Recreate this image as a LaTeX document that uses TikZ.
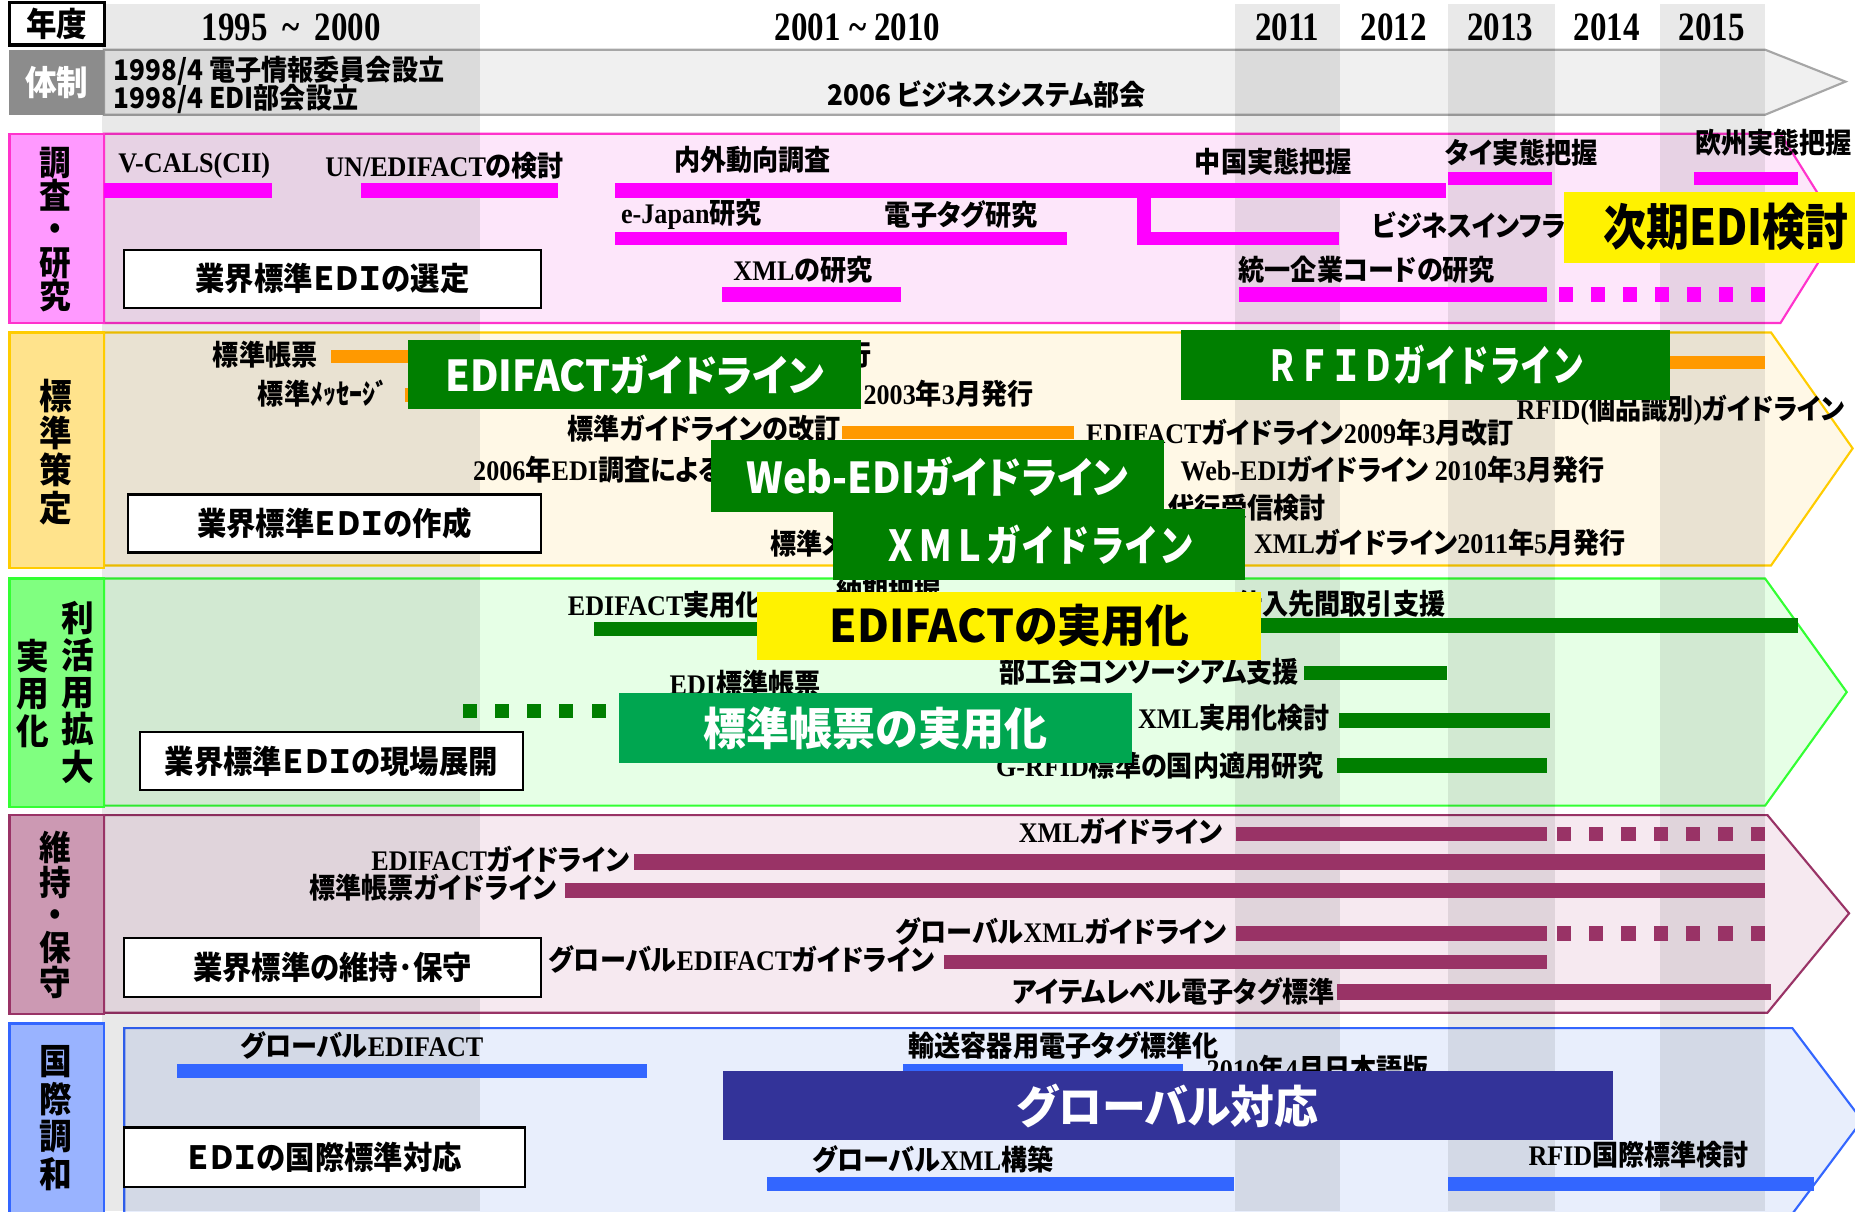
\documentclass[tikz,border=0pt]{standalone}
\usepackage{fontspec}
\setmainfont{Liberation Serif}
\newfontfamily\jp{Noto Sans CJK JP}[FakeStretch=0.92, RawFeature=+palt]
\newfontfamily\jpf{Noto Sans CJK JP}[FakeStretch=0.92]
\newfontfamily\tm{Liberation Serif}[FakeStretch=0.92]
\newfontfamily\tmy{Liberation Serif}[FakeStretch=0.82]
\newcommand\T[1]{{\tm\bfseries #1}}
\newcommand\tld{\char"007E\relax}
\definecolor{tgray}{HTML}{F0F0F0}
\definecolor{labgray}{HTML}{8C8C8C}
\definecolor{pinkbg}{HTML}{FDE6FA}
\definecolor{pinkln}{HTML}{FF33CC}
\definecolor{pinklab}{HTML}{FF99FF}
\definecolor{mag}{HTML}{FF00FF}
\definecolor{orbg}{HTML}{FFF8E6}
\definecolor{orln}{HTML}{FFCC00}
\definecolor{orlab}{HTML}{FFE38C}
\definecolor{orbar}{HTML}{FF9900}
\definecolor{grbg}{HTML}{E6FFE6}
\definecolor{grln}{HTML}{33FF33}
\definecolor{grlab}{HTML}{80FF80}
\definecolor{dgreen}{HTML}{007F00}
\definecolor{mgreen}{HTML}{00A650}
\definecolor{mvbg}{HTML}{F6E9F0}
\definecolor{mvln}{HTML}{993366}
\definecolor{mvlab}{HTML}{CC99B3}
\definecolor{blbg}{HTML}{E8EEFC}
\definecolor{blln}{HTML}{3366FF}
\definecolor{bllab}{HTML}{99B3FF}
\definecolor{navy}{HTML}{333399}
\newcommand\bx[7]{\node[#2, minimum width={(#5-#3)*0.5pt}, minimum height={(#6-#4)*0.5pt}] (#1) at ({(#3+#5)/2},{(#4+#6)/2}) {#7};}
\newcommand\br[5]{\fill[#1] (#2,#3) rectangle (#4,#5);}
\begin{document}
\begin{tikzpicture}[x=0.5pt,y=-0.5pt,
  every node/.style={inner sep=0pt, outer sep=0pt},
  lb/.style={font=\jp\bfseries\fontsize{12}{12}\selectfont, anchor=west},
  lbe/.style={lb, anchor=east},
  yr/.style={font=\tmy\bfseries\fontsize{17}{17}\selectfont},
  vlab/.style={font=\jpf\bfseries\fontsize{14.5}{14}\selectfont, align=center},
  wbox/.style={draw=black, line width=0.9pt, fill=white, font=\jp\bfseries\fontsize{13.5}{14}\selectfont},
  gbox/.style={fill=dgreen, text=white, font=\jp\bfseries\fontsize{18}{18}\selectfont},
  ybox/.style={fill=yellow, text=black, font=\jp\bfseries\fontsize{19}{19}\selectfont},
  shade/.style={black, opacity=0.085},
  band/.style={line width=0.9pt}]
\useasboundingbox (0,0) rectangle (1568,1024);
% ---------- bands ----------
\filldraw[band, fill=tgray, draw=gray!70] (88,42) -- (1492,42) -- (1560,69) -- (1492,97) -- (88,97) -- cycle;
\filldraw[band, fill=pinkbg, draw=pinkln] (88,113) -- (1505,113) -- (1555,193) -- (1505,273) -- (88,273) -- cycle;
\filldraw[band, fill=orbg, draw=orln] (88,281) -- (1497,281) -- (1566,379) -- (1497,478) -- (88,478) -- cycle;
\filldraw[band, fill=grbg, draw=grln] (88,489) -- (1492,489) -- (1561,585) -- (1492,681) -- (88,681) -- cycle;
\filldraw[band, fill=mvbg, draw=mvln] (88,689) -- (1494,689) -- (1563,772) -- (1494,856) -- (88,856) -- cycle;
\filldraw[band, fill=blbg, draw=blln] (105,869) -- (1515,869) -- (1574,947) -- (1515,1026) -- (105,1026) -- cycle;
% ---------- shaded year columns ----------
\fill[shade] (86,3) rectangle (406,1024);
\fill[shade] (1044,3) rectangle (1133,1024);
\fill[shade] (1224,3) rectangle (1314,1024);
\fill[shade] (1403,3) rectangle (1492,1024);
% ---------- header ----------
\bx{nendo}{draw=black, line width=1.3pt, fill=white, font=\jpf\bfseries\fontsize{14}{14}\selectfont}{8}{2}{88}{38}{年度}
\node[yr] (y1) at (246,23) {1995 \,\tld\, 2000};
\node[yr] (y2) at (725,23) {2001 \tld{} 2010};
\node[yr] (y3) at (1088,23) {2011};
\node[yr] (y4) at (1178,23) {2012};
\node[yr] (y5) at (1268,23) {2013};
\node[yr] (y6) at (1358,23) {2014};
\node[yr] (y7) at (1447,23) {2015};
% ---------- left label boxes ----------
\bx{L0}{fill=labgray, text=white, font=\jpf\bfseries\fontsize{14.5}{14}\selectfont}{8}{42}{88}{97}{体制}
\bx{L1}{fill=pinklab, draw=pinkln, line width=1pt}{8}{113}{88}{273}{}
\node[vlab] (v1) at (47,194) {調\\査\\・\\研\\究};
\bx{L2}{fill=orlab, draw=orln, line width=1pt}{8}{281}{88}{480}{}
\node[vlab, font=\jpf\bfseries\fontsize{15}{15.75}\selectfont] (v2) at (47,382) {標\\準\\策\\定};
\bx{L3}{fill=grlab, draw=grln, line width=1pt}{8}{489}{88}{682}{}
\node[vlab, font=\jpf\bfseries\fontsize{15}{15.75}\selectfont] (v3a) at (66,585) {利\\活\\用\\拡\\大};
\node[vlab, font=\jpf\bfseries\fontsize{15}{15.75}\selectfont] (v3b) at (28,586) {実\\用\\化};
\bx{L4}{fill=mvlab, draw=mvln, line width=1pt}{8}{689}{88}{857}{}
\node[vlab, font=\jpf\bfseries\fontsize{14.5}{13.75}\selectfont] (v4) at (47,773) {維\\持\\・\\保\\守};
\bx{L5}{fill=bllab, draw=blln, line width=1pt}{8}{865}{88}{1030}{}
\node[vlab, font=\jpf\bfseries\fontsize{15}{15.85}\selectfont] (v5) at (47,945) {国\\際\\調\\和};
% ---------- 体制 texts ----------
\node[lb, font=\jp\bfseries\fontsize{12}{12}\selectfont] (s1) at (96,60) {1998/4 電子情報委員会設立};
\node[lb, font=\jp\bfseries\fontsize{12}{12}\selectfont] (s2) at (96,84) {1998/4 EDI部会設立};
\node[font=\jp\bfseries\fontsize{12}{12}\selectfont] (s3) at (834,80) {2006 ビジネスシステム部会};
% ---------- band 1 bars ----------
\br{mag}{88}{155}{230}{167}
\br{mag}{305}{155}{472}{167}
\br{mag}{520}{155}{1222}{167}
\br{mag}{1224}{145}{1312}{156}
\br{mag}{1432}{145}{1520}{156}
\br{mag}{520}{196}{902}{207}
\br{mag}{961}{166}{973}{207}
\br{mag}{961}{196}{1132}{207}
\br{mag}{610}{243}{762}{255}
\br{mag}{1047}{243}{1308}{255}
\foreach \k in {0,...,6} {\fill[mag] ({1318+27*\k},243) rectangle ({1330+27*\k},255);}
% band 1 labels
\node[lb] (a1) at (100,140) {\T{V-CALS(CII)}};
\node[lb] (a2) at (275,140) {\T{UN/EDIFACT}の検討};
\node[lb] (a3) at (570,135) {内外動向調査};
\node[lb] (a4) at (1010,137) {中国実態把握};
\node[lb] (a5) at (1222,129) {タイ実態把握};
\node[lb] (a6) at (1433,121) {欧州実態把握};
\node[lb] (a7) at (525,181) {\T{e-Japan}研究};
\node[lb] (a8) at (748,181) {電子タグ研究};
\node[lb] (a9) at (1160,191) {ビジネスインフラ研究};
\node[lb] (a10) at (620,228) {\T{XML}の研究};
\node[lb] (a11) at (1047,228) {統一企業コードの研究};
% ---------- band 2 ----------
\br{orbar}{280}{296}{360}{307}
\br{orbar}{342}{328}{360}{340}
\br{orbar}{712}{360}{908}{371}
\br{orbar}{1000}{301}{1492}{312}
\node[lb] (b1) at (180,300) {標準帳票};
\node[lb] (b2) at (218,333) {標準ﾒｯｾｰｼﾞ};
\node[lbe] (b3) at (737,300) {\T{2001}年\T{3}月発行};
\node[lb] (b4) at (730,333) {\T{2003}年\T{3}月発行};
\node[lb] (b5) at (480,362) {標準ガイドラインの改訂};
\node[lb] (b6) at (918,366) {\T{EDIFACT}ガイドライン\T{2009}年\T{3}月改訂};
\node[lb] (b7) at (1282,347) {\T{RFID(}個品識別\T{)}ガイドライン};
\node[lb] (b8) at (400,397) {\T{2006}年\T{EDI}調査による};
\node[lb] (b9) at (998,397) {\T{Web-EDI}ガイドライン \T{2010}年\T{3}月発行};
\node[lb] (b10) at (988,429) {代行受信検討};
\node[lb] (b11) at (651,460) {標準メッセージ};
\node[lb] (b12) at (1060,459) {\T{XML}ガイドライン\T{2011}年\T{5}月発行};
% ---------- band 3 ----------
\br{dgreen}{502}{526}{760}{538}
\br{dgreen}{1050}{522}{1520}{535}
\br{dgreen}{1102}{563}{1223}{575}
\br{dgreen}{1132}{603}{1310}{615}
\br{dgreen}{1130}{641}{1308}{653}
\foreach \k in {0,...,4} {\fill[dgreen] ({391+27.25*\k},595) rectangle ({403+27.25*\k},607);}
\node[lb] (c1) at (480,511) {\T{EDIFACT}実用化};
\node[lb] (c2) at (707,500) {納期把握};
\node[lb] (c3) at (1045,510) {仕入先間取引支援};
\node[lb] (c4) at (845,568) {部工会コンソーシアム支援};
\node[lb] (c5) at (566,578) {\T{EDI}標準帳票};
\node[lb] (c6) at (962,607) {\T{XML}実用化検討};
\node[lb] (c7) at (842,647) {\T{G-RFID}標準の国内適用研究};
% ---------- band 4 ----------
\br{mvln}{1045}{699}{1308}{711}
\foreach \k in {0,...,6} {\fill[mvln] ({1316+27.3*\k},699) rectangle ({1328+27.3*\k},711);}
\br{mvln}{536}{722}{1492}{735}
\br{mvln}{478}{746}{1492}{759}
\br{mvln}{1045}{783}{1308}{795}
\foreach \k in {0,...,6} {\fill[mvln] ({1316+27.3*\k},783) rectangle ({1328+27.3*\k},795);}
\br{mvln}{798}{807}{1308}{819}
\br{mvln}{1130}{832}{1497}{845}
\node[lbe] (d1) at (1033,703) {\T{XML}ガイドライン};
\node[lbe] (d2) at (532,726) {\T{EDIFACT}ガイドライン};
\node[lbe] (d3) at (470,750) {標準帳票ガイドライン};
\node[lbe] (d4) at (1037,787) {グローバル\T{XML}ガイドライン};
\node[lbe] (d5) at (790,811) {グローバル\T{EDIFACT}ガイドライン};
\node[lbe] (d6) at (1128,838) {アイテムレベル電子タグ標準};
% ---------- band 5 ----------
\br{blln}{150}{899}{547}{911}
\br{blln}{763}{899}{1000}{911}
\br{blln}{648}{995}{1043}{1007}
\br{blln}{1224}{995}{1533}{1007}
\node[lb] (e1) at (203,884) {グローバル\T{EDIFACT}};
\node[lb] (e2) at (768,884) {輸送容器用電子タグ標準化};
\node[lb] (e3) at (1020,903) {\T{2010}年\T{4}月日本語版};
\node[lb] (e4) at (687,980) {グローバル\T{XML}構築};
\node[lb] (e5) at (1292,976) {\T{RFID}国際標準検討};
% ---------- white boxes ----------
\bx{w1}{wbox}{105}{211}{457}{260}{業界標準ＥＤＩの選定}
\bx{w2}{wbox}{108}{418}{457}{467}{業界標準ＥＤＩの作成}
\bx{w3}{wbox}{118}{619}{442}{668}{業界標準ＥＤＩの現場展開}
\bx{w4}{wbox}{105}{793}{457}{843}{業界標準の維持･保守}
\bx{w5}{wbox}{105}{953}{444}{1003}{ＥＤＩの国際標準対応}
% ---------- big boxes ----------
\bx{g1}{gbox}{345}{287}{728}{346}{EDIFACTガイドライン}
\bx{g2}{gbox, font=\jpf\bfseries\fontsize{18}{18}\selectfont}{998}{279}{1412}{338}{\scalebox{0.81}[1]{ＲＦＩＤガイドライン}}
\bx{g3}{gbox}{601}{372}{984}{433}{Web-EDIガイドライン}
\bx{g4}{gbox, font=\jpf\bfseries\fontsize{18}{18}\selectfont}{704}{430}{1052}{490}{\scalebox{0.88}[1]{ＸＭＬガイドライン}}
\bx{y1b}{ybox}{1322}{162}{1568}{222}{}
\node[font=\jp\bfseries\fontsize{21}{21}\selectfont] (y1t) at (1459,192) {\scalebox{0.94}[1]{次期EDI検討}};
\bx{y2b}{ybox}{640}{500}{1066}{558}{\scalebox{1.06}[1]{EDIFACTの実用化}}
\bx{g5}{gbox, fill=mgreen, font=\jp\bfseries\fontsize{19}{19}\selectfont}{523}{586}{957}{645}{\scalebox{1.04}[1]{標準帳票の実用化}}
\bx{n1}{gbox, fill=navy, font=\jp\bfseries\fontsize{19}{19}\selectfont}{611}{905}{1363}{964}{\scalebox{1.06}[1]{グローバル対応}}
\end{tikzpicture}
\end{document}
